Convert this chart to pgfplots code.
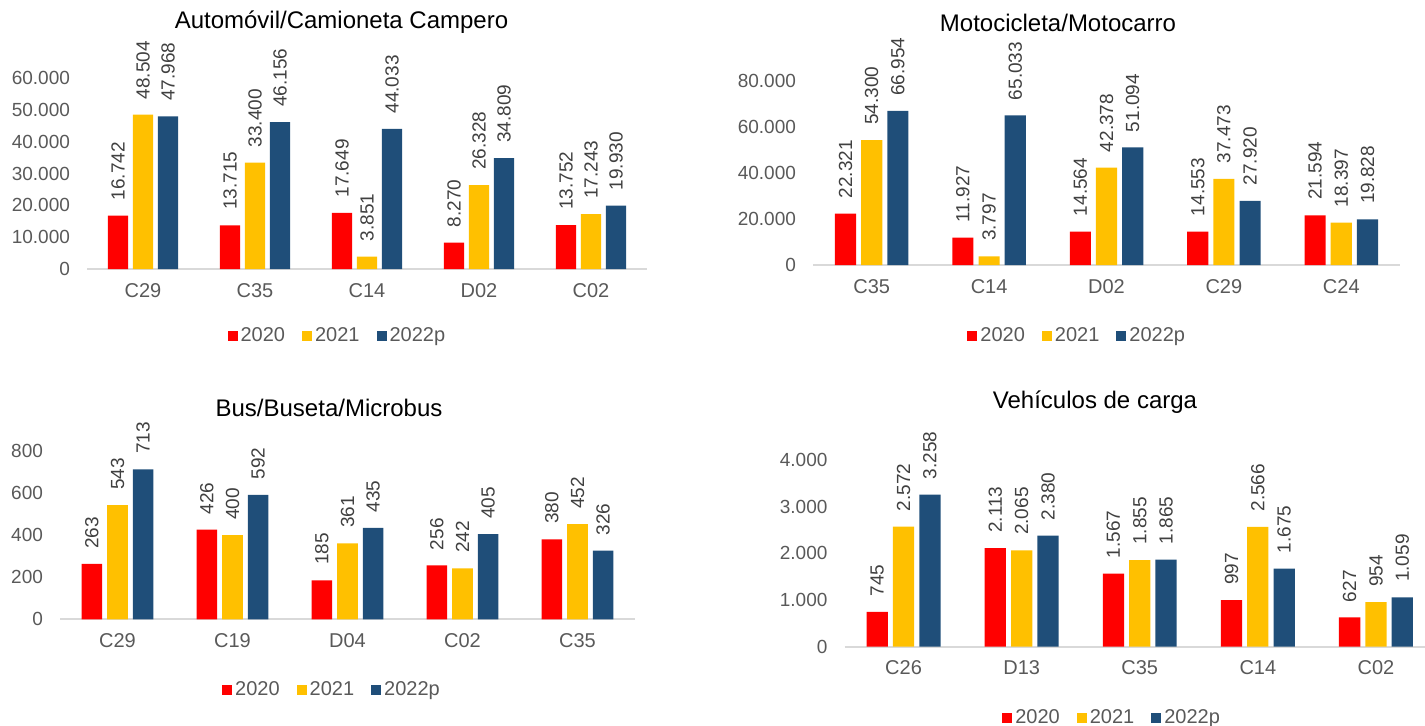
\documentclass[border=0pt]{standalone}
\usepackage{pgfplots}
\pgfplotsset{compat=1.18}
\usepackage{fontspec}
\setmainfont{Liberation Sans}
\definecolor{c20}{HTML}{FF0000}
\definecolor{c21}{HTML}{FFC000}
\definecolor{c22}{HTML}{1F4E79}
\definecolor{tickgray}{HTML}{595959}
\definecolor{labgray}{HTML}{404040}
\definecolor{axgray}{HTML}{D9D9D9}

\pgfplotsset{
 panel/.style={
  scale only axis,
  anchor=south west,
  ybar, bar width=0.18,
  xmin=-0.5, xmax=4.5, ymin=0,
  xtick={0,1,2,3,4},
  axis x line*=bottom, axis y line*=left,
  x axis line style={-, draw=axgray, line width=1pt},
  y axis line style={draw=none},
  major tick length=0pt,
  clip=false,
  scaled y ticks=false,
  /pgf/number format/fixed,
  /pgf/number format/precision=0,
  /pgf/number format/1000 sep={.},
  /pgf/number format/assume math mode=true,
  yticklabel style={font=\fontsize{9.5}{11}\selectfont, text=tickgray, xshift=-5pt},
  xticklabel style={font=\fontsize{10}{12}\selectfont, text=tickgray, yshift=-3.5pt},
  nodes near coords,
  every node near coord/.append style={font=\fontsize{9.5}{11}\selectfont, text=labgray, rotate=90, anchor=west, inner xsep=7.5pt, inner ysep=0pt},
  legend columns=3,
  legend image code/.code={\fill[##1] (0pt,-2.65pt) rectangle (5pt,2.65pt);},
  legend style={draw=none, fill=none, anchor=center, font=\fontsize{10}{12}\selectfont, text=tickgray,
    /tikz/every even column/.append style={column sep=7pt}, nodes={inner xsep=1.5pt, inner ysep=1pt}},
 },
 s20/.style={fill=c20, draw=none, bar shift=-0.223},
 s21/.style={fill=c21, draw=none, bar shift=0},
 s22/.style={fill=c22, draw=none, bar shift=0.223},
}

\begin{document}
\begin{tikzpicture}
\path[use as bounding box] (0,0) rectangle (712.5pt,362.5pt);
\clip (0,0) rectangle (712.5pt,362.5pt);

% Panel 1
\node[font=\fontsize{12}{14}\selectfont] at (170.75pt,351.5pt) {Automóvil/Camioneta Campero};
\begin{axis}[panel, at={(43.5pt,228pt)}, width=280pt, height=95.5pt, ymax=60000,
  ytick={0,10000,20000,30000,40000,50000,60000},
  xticklabels={C29,C35,C14,D02,C02},
  legend style={at={(0.448,-0.351)}}]
\addplot[s20] coordinates {(0,16742) (1,13715) (2,17649) (3,8270) (4,13752)};
\addplot[s21] coordinates {(0,48504) (1,33400) (2,3851) (3,26328) (4,17243)};
\addplot[s22] coordinates {(0,47968) (1,46156) (2,44033) (3,34809) (4,19930)};
\legend{2020,2021,2022p}
\end{axis}

% Panel 2
\node[font=\fontsize{12}{14}\selectfont] at (529pt,351pt) {Motocicleta/Motocarro};
\begin{axis}[panel, at={(406.5pt,230pt)}, width=293.5pt, height=92pt, ymax=80000,
  ytick={0,20000,40000,60000,80000},
  xticklabels={C35,C14,D02,C29,C24},
  legend style={at={(0.451,-0.386)}}]
\addplot[s20] coordinates {(0,22321) (1,11927) (2,14564) (3,14553) (4,21594)};
\addplot[s21] coordinates {(0,54300) (1,3797) (2,42378) (3,37473) (4,18397)};
\addplot[s22] coordinates {(0,66954) (1,65033) (2,51094) (3,27920) (4,19828)};
\legend{2020,2021,2022p}
\end{axis}

% Panel 3
\node[font=\fontsize{12}{14}\selectfont] at (164.5pt,158.5pt) {Bus/Buseta/Microbus};
\begin{axis}[panel, at={(30pt,52.85pt)}, width=287.5pt, height=84.15pt, ymax=800,
  ytick={0,200,400,600,800},
  xticklabels={C29,C19,D04,C02,C35},
  legend style={at={(0.474,-0.42)}}]
\addplot[s20] coordinates {(0,263) (1,426) (2,185) (3,256) (4,380)};
\addplot[s21] coordinates {(0,543) (1,400) (2,361) (3,242) (4,452)};
\addplot[s22] coordinates {(0,713) (1,592) (2,435) (3,405) (4,326)};
\legend{2020,2021,2022p}
\end{axis}

% Panel 4
\node[font=\fontsize{12}{14}\selectfont] at (547.5pt,161.65pt) {Vehículos de carga};
\begin{axis}[panel, at={(422.25pt,39.15pt)}, width=295.25pt, height=93.35pt, ymax=4000,
  ytick={0,1000,2000,3000,4000},
  xticklabels={C26,D13,C35,C14,C02},
  legend style={at={(0.454,-0.382)}}]
\addplot[s20] coordinates {(0,745) (1,2113) (2,1567) (3,997) (4,627)};
\addplot[s21] coordinates {(0,2572) (1,2065) (2,1855) (3,2566) (4,954)};
\addplot[s22] coordinates {(0,3258) (1,2380) (2,1865) (3,1675) (4,1059)};
\legend{2020,2021,2022p}
\end{axis}
\end{tikzpicture}
\end{document}
